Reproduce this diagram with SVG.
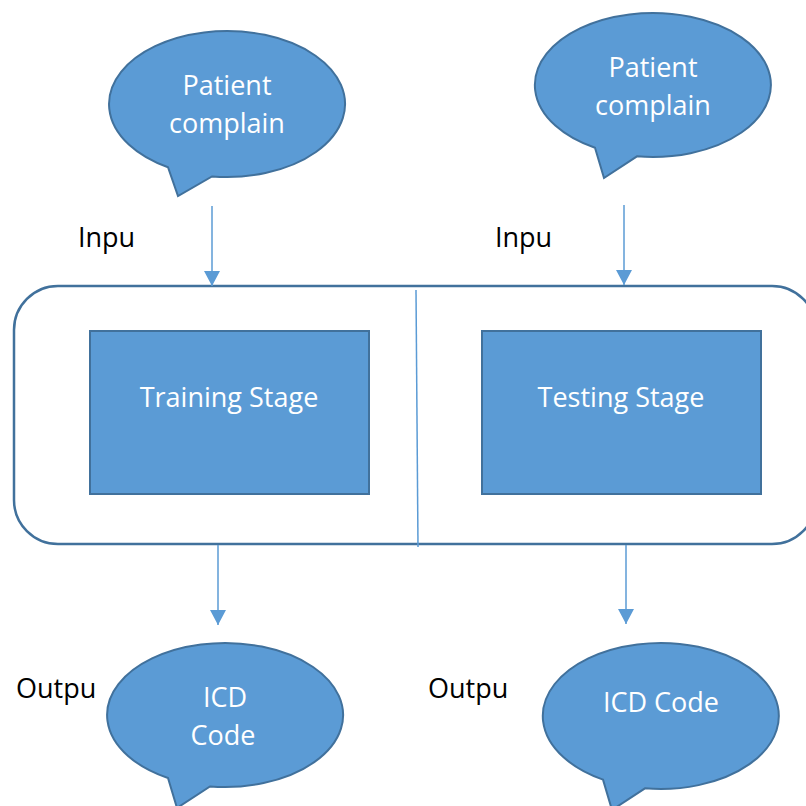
<svg xmlns="http://www.w3.org/2000/svg" width="806" height="806" viewBox="0 0 806 806">
  <style>
    .shape { fill: #5B9BD5; stroke: #41719C; stroke-width: 2; }
    .frame { fill: #FFFFFF; stroke: #41719C; stroke-width: 2.5; }
    .wire { stroke: #5B9BD5; stroke-width: 1.5; fill: none; }
    .in { font-family: "Open Sans", "Noto Sans", sans-serif; font-size: 27px; fill: #FFFFFF; text-anchor: middle; }
    .lbl { font-family: "Open Sans", "Noto Sans", sans-serif; font-size: 27px; fill: #000000; }
  </style>
  <defs>
    <marker id="head" markerUnits="userSpaceOnUse" markerWidth="16" markerHeight="16" refX="15" refY="8" orient="auto">
      <path d="M0,0 L15,8 L0,16 Z" fill="#5B9BD5"/>
    </marker>
  </defs>

  <!-- outer container with both stages -->
  <g id="container">
    <rect class="frame" x="14" y="286" width="802" height="258" rx="44" ry="44"/>
  </g>

  <!-- connectors -->
  <g id="connectors">
    <line class="wire" x1="416" y1="290" x2="418" y2="547"/>
    <line class="wire" x1="212" y1="206" x2="212" y2="286" marker-end="url(#head)"/>
    <line class="wire" x1="624" y1="205" x2="624" y2="285" marker-end="url(#head)"/>
    <line class="wire" x1="218" y1="545" x2="218" y2="625" marker-end="url(#head)"/>
    <line class="wire" x1="626" y1="545" x2="626" y2="624" marker-end="url(#head)"/>
  </g>

  <g id="input-train">
    <path class="shape" d="M168,167.2 A118,73 0 1 1 212,176.4 L178,196 Z"/>
    <text class="in" x="227" y="95">Patient</text>
    <text class="in" x="227" y="133">complain</text>
  </g>

  <g id="input-test">
    <path class="shape" d="M595,147.7 A118,72 0 1 1 637,156.3 L604,178 Z"/>
    <text class="in" x="653" y="77">Patient</text>
    <text class="in" x="653" y="115">complain</text>
  </g>

  <g id="training">
    <rect class="shape" x="90" y="331" width="279" height="163"/>
    <text class="in" x="229" y="407">Training Stage</text>
  </g>

  <g id="testing">
    <rect class="shape" x="482" y="331" width="279" height="163"/>
    <text class="in" x="621" y="407">Testing Stage</text>
  </g>

  <g id="output-train">
    <path class="shape" d="M168,778 A118,72 0 1 1 210,786.4 L177,808 Z"/>
    <text class="in" x="225" y="707">ICD</text>
    <text class="in" x="223" y="745">Code</text>
  </g>

  <g id="output-test">
    <path class="shape" d="M603,779.6 A118,73 0 1 1 645,788.3 L612,810 Z"/>
    <text class="in" x="661" y="712">ICD Code</text>
  </g>

  <g id="labels">
    <text class="lbl" x="78" y="247">Inpu</text>
    <text class="lbl" x="495" y="247">Inpu</text>
    <text class="lbl" x="16" y="698">Outpu</text>
    <text class="lbl" x="428" y="698">Outpu</text>
  </g>
</svg>
